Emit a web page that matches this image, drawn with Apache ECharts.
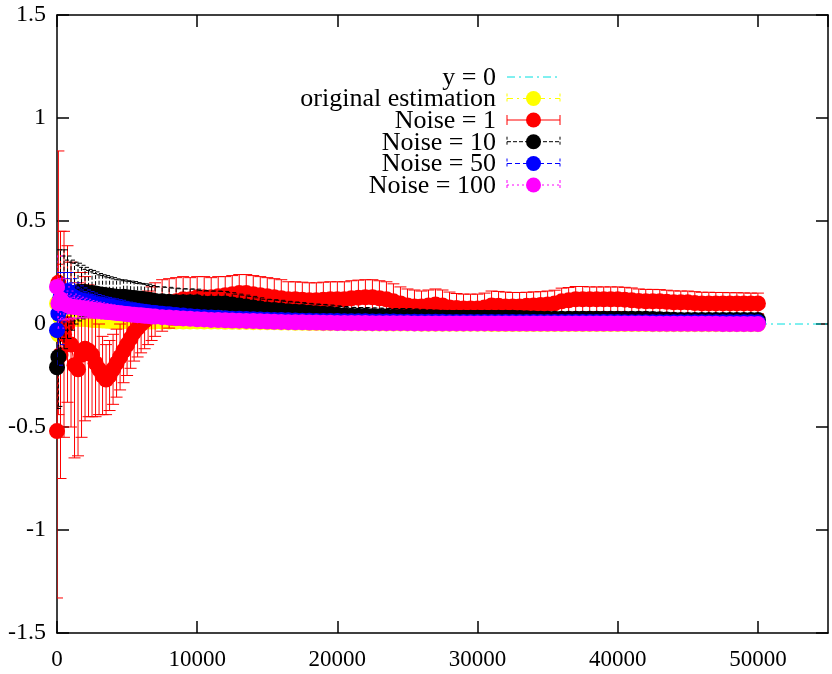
<!DOCTYPE html>
<html><head><meta charset="utf-8">
<script src="https://cdn.jsdelivr.net/npm/echarts@6/dist/echarts.min.js"></script>
<style>html,body{margin:0;padding:0;background:#fff}#c{width:832px;height:674px}</style>
</head><body><div id="c"></div>
<script>
// x positions (iterations)
const xs = [0,100,250,500,750,1000,1250,1500,1750,2000,
 2250,2500,2750,3000,3250,3500,3750,4000,4250,4500,
 4750,5000,5250,5500,5750,6000,6250,6500,6750,7000,
 7500,8000,8500,9000,9500,10000,10500,11000,11500,12000,
 12500,13000,13500,14000,14500,15000,15500,16000,16500,17000,
 17500,18000,18500,19000,19500,20000,20500,21000,21500,22000,
 22500,23000,23500,24000,24500,25000,25500,26000,26500,27000,
 27500,28000,28500,29000,29500,30000,30500,31000,31500,32000,
 32500,33000,33500,34000,34500,35000,35500,36000,36500,37000,
 37500,38000,38500,39000,39500,40000,40500,41000,41500,42000,
 42500,43000,43500,44000,44500,45000,45500,46000,46500,47000,
 47500,48000,48500,49000,49500,50000];

const xTicks = [0,10000,20000,30000,40000,50000];
const yTicks = [-1.5,-1,-0.5,0,0.5,1,1.5];
const seriesNames = ['y = 0','original estimation','Noise = 1','Noise = 10','Noise = 50','Noise = 100'];

const origY = [0.10,-0.05,0.03,0.04,0.04,0.035,0.03,0.03,0.025,0.025,
 0.022,0.02,0.019,0.018,0.017,0.016,0.015,0.015,0.014,0.014,
 0.013,0.013,0.013,0.013,0.012,0.012,0.012,0.012,0.012,0.012,
 0.012,0.012,0.012,0.012,0.012,0.012,0.012,0.012,0.012,0.011,
 0.011,0.01,0.01,0.009,0.009,0.008,0.008,0.007,0.007,0.006,
 0.006,0.005,0.005,0.004,0.004,0.004,0.004,0.003,0.003,0.003,
 0.003,0.002,0.002,0.002,0.002,0.002,0.002,0.001,0.001,0.001,
 0.001,0.001,0.001,0.001,0.001,0.001,0.001,0.0,0.0,0.0,
 0.0,0.0,0.0,0.0,0.0,0.0,0.0,0.0,0.0,0.0,
 0.0,0.0,0.0,0.0,0.0,0.0,0.0,0.0,0.0,0.0,
 -0.001,-0.001,-0.001,-0.001,-0.001,-0.001,-0.001,-0.001,-0.001,-0.001,
 -0.001,-0.001,-0.001,-0.001,-0.001,-0.001];
const origE = [0.12,0.1,0.08,0.06,0.05,0.045,0.04,0.038,0.035,0.033,
 0.031,0.03,0.029,0.028,0.027,0.026,0.025,0.025,0.024,0.024,
 0.023,0.023,0.022,0.022,0.021,0.021,0.02,0.02,0.02,0.02,
 0.019,0.019,0.018,0.018,0.017,0.017,0.017,0.016,0.016,0.016,
 0.016,0.015,0.015,0.015,0.015,0.014,0.014,0.014,0.014,0.014,
 0.013,0.013,0.013,0.013,0.013,0.013,0.013,0.013,0.013,0.013,
 0.012,0.012,0.012,0.012,0.012,0.012,0.012,0.012,0.012,0.012,
 0.011,0.011,0.011,0.011,0.011,0.011,0.011,0.011,0.011,0.011,
 0.01,0.01,0.01,0.01,0.01,0.01,0.01,0.01,0.01,0.01,
 0.01,0.01,0.01,0.01,0.01,0.01,0.01,0.01,0.01,0.01,
 0.009,0.009,0.009,0.009,0.009,0.009,0.009,0.009,0.009,0.009,
 0.008,0.008,0.008,0.008,0.008,0.008];

const n1Y = [-0.52,0.20,-0.15,-0.05,0.00,-0.10,-0.20,-0.22,-0.15,-0.12,
 -0.13,-0.15,-0.19,-0.22,-0.25,-0.27,-0.25,-0.22,-0.19,-0.16,
 -0.13,-0.10,-0.07,-0.04,-0.02,0.00,0.015,0.03,0.05,0.07,
 0.09,0.10,0.11,0.12,0.12,0.13,0.13,0.13,0.135,0.14,
 0.145,0.15,0.15,0.145,0.14,0.135,0.13,0.125,0.12,0.12,
 0.118,0.115,0.115,0.118,0.12,0.12,0.12,0.125,0.128,0.13,
 0.13,0.125,0.12,0.11,0.10,0.09,0.085,0.085,0.09,0.095,
 0.09,0.08,0.078,0.075,0.075,0.075,0.08,0.09,0.088,0.085,
 0.085,0.085,0.088,0.09,0.092,0.095,0.10,0.11,0.115,0.12,
 0.12,0.12,0.12,0.12,0.12,0.12,0.118,0.115,0.112,0.11,
 0.11,0.11,0.108,0.105,0.105,0.105,0.102,0.10,0.10,0.10,
 0.10,0.10,0.10,0.10,0.10,0.10];
const n1E = [0.81,0.64,0.60,0.50,0.38,0.40,0.45,0.42,0.40,0.35,
 0.32,0.30,0.26,0.22,0.19,0.17,0.17,0.17,0.165,0.16,
 0.155,0.15,0.145,0.14,0.14,0.14,0.135,0.13,0.13,0.13,
 0.125,0.12,0.115,0.11,0.105,0.10,0.10,0.095,0.095,0.09,
 0.09,0.09,0.09,0.09,0.09,0.09,0.09,0.09,0.085,0.085,
 0.085,0.085,0.085,0.085,0.085,0.085,0.085,0.085,0.085,0.085,
 0.085,0.085,0.085,0.085,0.08,0.08,0.08,0.075,0.075,0.075,
 0.075,0.075,0.07,0.07,0.07,0.07,0.07,0.07,0.07,0.07,
 0.068,0.068,0.066,0.066,0.065,0.065,0.064,0.064,0.062,0.062,
 0.062,0.06,0.06,0.06,0.06,0.06,0.06,0.06,0.058,0.058,
 0.058,0.057,0.056,0.056,0.055,0.055,0.055,0.054,0.054,0.053,
 0.053,0.052,0.052,0.051,0.05,0.05];

const n10Y = [-0.21,-0.16,0.10,0.12,0.13,0.14,0.15,0.155,0.155,0.155,
 0.15,0.15,0.148,0.145,0.142,0.14,0.137,0.135,0.132,0.13,
 0.132,0.13,0.128,0.126,0.124,0.122,0.12,0.118,0.115,0.112,
 0.11,0.108,0.106,0.105,0.105,0.105,0.10,0.10,0.10,0.10,
 0.095,0.09,0.085,0.08,0.075,0.07,0.068,0.065,0.062,0.06,
 0.058,0.055,0.052,0.05,0.048,0.045,0.043,0.04,0.04,0.04,
 0.038,0.037,0.036,0.035,0.035,0.035,0.034,0.033,0.032,0.031,
 0.03,0.03,0.03,0.03,0.03,0.03,0.03,0.03,0.03,0.03,
 0.03,0.029,0.028,0.027,0.026,0.025,0.025,0.025,0.025,0.025,
 0.025,0.025,0.025,0.025,0.025,0.025,0.025,0.025,0.025,0.025,
 0.024,0.023,0.022,0.021,0.02,0.02,0.02,0.02,0.02,0.02,
 0.02,0.02,0.02,0.02,0.02,0.02];
const n10E = [0.20,0.24,0.26,0.24,0.20,0.17,0.15,0.14,0.13,0.12,
 0.115,0.11,0.105,0.10,0.097,0.095,0.092,0.09,0.087,0.085,
 0.082,0.08,0.08,0.08,0.077,0.075,0.075,0.075,0.072,0.07,
 0.07,0.07,0.068,0.066,0.065,0.064,0.062,0.06,0.06,0.058,
 0.057,0.055,0.055,0.054,0.052,0.05,0.05,0.05,0.048,0.047,
 0.046,0.045,0.045,0.045,0.044,0.043,0.042,0.041,0.04,0.04,
 0.04,0.04,0.04,0.04,0.04,0.04,0.039,0.038,0.037,0.036,
 0.036,0.035,0.035,0.035,0.035,0.035,0.035,0.035,0.034,0.034,
 0.034,0.033,0.033,0.032,0.032,0.031,0.031,0.03,0.03,0.03,
 0.03,0.03,0.03,0.03,0.03,0.03,0.03,0.03,0.03,0.03,
 0.029,0.029,0.028,0.028,0.027,0.027,0.026,0.026,0.026,0.025,
 0.025,0.025,0.025,0.025,0.025,0.025];

const n50Y = [-0.03,0.05,0.13,0.15,0.16,0.14,0.13,0.12,0.115,0.11,
 0.105,0.10,0.095,0.09,0.087,0.085,0.082,0.08,0.077,0.075,
 0.071,0.068,0.066,0.064,0.062,0.06,0.058,0.056,0.054,0.053,
 0.05,0.047,0.044,0.041,0.038,0.035,0.033,0.031,0.03,0.028,
 0.026,0.025,0.024,0.023,0.022,0.021,0.02,0.019,0.018,0.017,
 0.016,0.016,0.015,0.015,0.014,0.014,0.013,0.013,0.013,0.013,
 0.012,0.012,0.012,0.012,0.011,0.011,0.011,0.011,0.011,0.011,
 0.011,0.01,0.01,0.01,0.01,0.01,0.01,0.01,0.01,0.01,
 0.01,0.01,0.01,0.01,0.01,0.01,0.01,0.01,0.01,0.01,
 0.01,0.01,0.01,0.01,0.01,0.01,0.009,0.009,0.009,0.009,
 0.009,0.009,0.009,0.009,0.009,0.009,0.009,0.009,0.008,0.008,
 0.008,0.008,0.008,0.008,0.008,0.008];
const n50E = [0.17,0.15,0.12,0.10,0.09,0.08,0.07,0.065,0.06,0.055,
 0.052,0.05,0.048,0.047,0.045,0.044,0.043,0.042,0.041,0.04,
 0.039,0.038,0.037,0.036,0.035,0.035,0.034,0.034,0.033,0.033,
 0.032,0.031,0.03,0.03,0.029,0.028,0.028,0.027,0.027,0.026,
 0.026,0.025,0.025,0.025,0.024,0.024,0.023,0.023,0.022,0.022,
 0.022,0.021,0.021,0.021,0.02,0.02,0.02,0.02,0.02,0.02,
 0.019,0.019,0.019,0.019,0.019,0.018,0.018,0.018,0.018,0.018,
 0.018,0.018,0.017,0.017,0.017,0.017,0.017,0.017,0.017,0.017,
 0.016,0.016,0.016,0.016,0.016,0.016,0.016,0.016,0.016,0.016,
 0.015,0.015,0.015,0.015,0.015,0.015,0.015,0.015,0.015,0.015,
 0.015,0.015,0.014,0.014,0.014,0.014,0.014,0.014,0.014,0.014,
 0.014,0.014,0.014,0.014,0.014,0.014];

const n100Y = [0.18,0.10,0.12,0.10,0.09,0.085,0.082,0.08,0.077,0.075,
 0.072,0.07,0.067,0.065,0.062,0.06,0.058,0.056,0.054,0.052,
 0.05,0.048,0.046,0.045,0.043,0.042,0.04,0.039,0.037,0.036,
 0.033,0.031,0.029,0.027,0.025,0.023,0.022,0.02,0.019,0.018,
 0.017,0.016,0.015,0.014,0.013,0.012,0.011,0.01,0.009,0.008,
 0.008,0.007,0.007,0.006,0.006,0.005,0.005,0.005,0.005,0.005,
 0.004,0.004,0.004,0.004,0.004,0.004,0.003,0.003,0.003,0.003,
 0.003,0.003,0.003,0.003,0.003,0.003,0.003,0.003,0.002,0.002,
 0.002,0.002,0.002,0.002,0.002,0.002,0.002,0.002,0.002,0.002,
 0.002,0.002,0.002,0.002,0.002,0.002,0.002,0.002,0.002,0.002,
 0.001,0.001,0.001,0.001,0.001,0.001,0.001,0.001,0.001,0.001,
 0.0,0.0,0.0,0.0,0.0,0.0];
const n100E = [0.15,0.12,0.10,0.08,0.07,0.06,0.055,0.05,0.048,0.045,
 0.042,0.04,0.039,0.038,0.037,0.036,0.035,0.034,0.033,0.032,
 0.031,0.031,0.03,0.03,0.029,0.029,0.028,0.028,0.027,0.027,
 0.027,0.026,0.026,0.025,0.025,0.025,0.024,0.024,0.023,0.023,
 0.023,0.022,0.022,0.021,0.021,0.021,0.02,0.02,0.02,0.02,
 0.019,0.019,0.019,0.018,0.018,0.018,0.018,0.018,0.017,0.017,
 0.017,0.017,0.017,0.016,0.016,0.016,0.016,0.016,0.016,0.016,
 0.015,0.015,0.015,0.015,0.015,0.015,0.015,0.015,0.015,0.014,
 0.014,0.014,0.014,0.014,0.014,0.014,0.014,0.014,0.014,0.014,
 0.013,0.013,0.013,0.013,0.013,0.013,0.013,0.013,0.013,0.013,
 0.013,0.013,0.013,0.012,0.012,0.012,0.012,0.012,0.012,0.012,
 0.012,0.012,0.012,0.012,0.012,0.012];

const zeroLineX = [0,55000];
const zeroLineY = [0,0];

const FONT = '"Liberation Serif", "DejaVu Serif", serif';
const styles = [
  {color:'#00e0e0', dash:[8,4,2,4]},
  {color:'#ffff00', dash:[6,4,2,4]},
  {color:'#ff0000', dash:'solid'},
  {color:'#000000', dash:[4,2]},
  {color:'#0000ff', dash:[5,3]},
  {color:'#ff00ff', dash:[2,3]}
];
const dataSets = [null,[origY,origE],[n1Y,n1E],[n10Y,n10E],[n50Y,n50E],[n100Y,n100E]];

const series = [{
  type:'line', name:seriesNames[0], z:1,
  data: zeroLineX.map((x,i)=>[x,zeroLineY[i]]),
  symbol:'none', lineStyle:{color:styles[0].color, width:1, type:styles[0].dash}
}];
for (let k=1;k<6;k++){
  const [ys,es] = dataSets[k];
  const st = styles[k];
  const dashArr = st.dash === 'solid' ? null : st.dash;
  series.push({
    type:'custom', name:seriesNames[k]+' err', z:2*k, silent:true, clip:true,
    data: xs.map((x,i)=>[x, ys[i]-es[i], ys[i]+es[i]]),
    encode:{x:0, y:[1,2]},
    renderItem(params, api){
      const lo = api.coord([api.value(0), api.value(1)]);
      const hi = api.coord([api.value(0), api.value(2)]);
      const w = 6;
      const s = {stroke:st.color, lineWidth:1, lineDash:dashArr};
      return {type:'group', children:[
        {type:'line', shape:{x1:lo[0],y1:lo[1],x2:hi[0],y2:hi[1]}, style:s},
        {type:'line', shape:{x1:lo[0]-w,y1:lo[1],x2:lo[0]+w,y2:lo[1]}, style:s},
        {type:'line', shape:{x1:hi[0]-w,y1:hi[1],x2:hi[0]+w,y2:hi[1]}, style:s}
      ]};
    }
  });
  series.push({
    type:'line', name:seriesNames[k], z:2*k+1,
    data: xs.map((x,i)=>[x, ys[i]]),
    symbol:'circle', symbolSize:16, showSymbol:true, showAllSymbol:true,
    lineStyle:{color:st.color, width:1, type:st.dash},
    itemStyle:{color:st.color, borderWidth:0}
  });
}

// legend drawn gnuplot-style
const rowsY = [77, 98.5, 120, 141.7, 163.5, 185];
const graphic = [];
for (let k=0;k<6;k++){
  const y = rowsY[k], st = styles[k];
  const dashArr = st.dash === 'solid' ? null : st.dash;
  graphic.push({type:'text', x:496, y:y+1, z:100,
    style:{text:seriesNames[k], fill:'#000', font:'26px '+FONT, align:'right', verticalAlign:'middle'}});
  graphic.push({type:'line', z:100, shape:{x1:507,y1:y,x2:560,y2:y}, style:{stroke:st.color, lineWidth:1, lineDash:dashArr}});
  if (k>0){
    graphic.push({type:'line', z:100, shape:{x1:507,y1:y-5,x2:507,y2:y+5}, style:{stroke:st.color, lineWidth:1, lineDash:dashArr? [3,2]:null}});
    graphic.push({type:'line', z:100, shape:{x1:560,y1:y-5,x2:560,y2:y+5}, style:{stroke:st.color, lineWidth:1, lineDash:dashArr? [3,2]:null}});
    graphic.push({type:'circle', z:101, shape:{cx:533.5, cy:y, r:7.5}, style:{fill:st.color}});
  }
}

const axisCommonX = {
  type:'value', min:0, max:55000, interval:10000,
  axisLine:{show:true, onZero:false, lineStyle:{color:'#000', width:1.5}},
  axisTick:{show:true, inside:true, length:12, lineStyle:{color:'#000', width:1.5}},
  splitLine:{show:false}
};
const axisCommonY = {
  type:'value', min:-1.5, max:1.5, interval:0.5,
  axisLine:{show:true, onZero:false, lineStyle:{color:'#000', width:1.5}},
  axisTick:{show:true, inside:true, length:12, lineStyle:{color:'#000', width:1.5}},
  splitLine:{show:false}
};

const chart = echarts.init(document.getElementById('c'), null, {renderer:'canvas'});
chart.setOption({
  animation:false,
  backgroundColor:'#fff',
  grid:{left:57, right:4, top:15, bottom:41, containLabel:false},
  xAxis:[
    Object.assign({}, axisCommonX, {position:'bottom',
      axisLabel:{color:'#000', fontFamily:FONT, fontSize:23, margin:15, showMaxLabel:false,
        formatter:v=> xTicks.indexOf(v)>=0 ? String(v) : ''}}),
    Object.assign({}, axisCommonX, {position:'top', axisLabel:{show:false}})
  ],
  yAxis:[
    Object.assign({}, axisCommonY, {position:'left',
      axisLabel:{color:'#000', fontFamily:FONT, fontSize:24, margin:11,
        formatter:v=> { const t = yTicks.find(a=>Math.abs(a-v)<1e-9); return t===undefined ? '' : String(t); }}}),
    Object.assign({}, axisCommonY, {position:'right', axisLabel:{show:false}})
  ],
  series: series,
  graphic: graphic
});
</script>
</body></html>
